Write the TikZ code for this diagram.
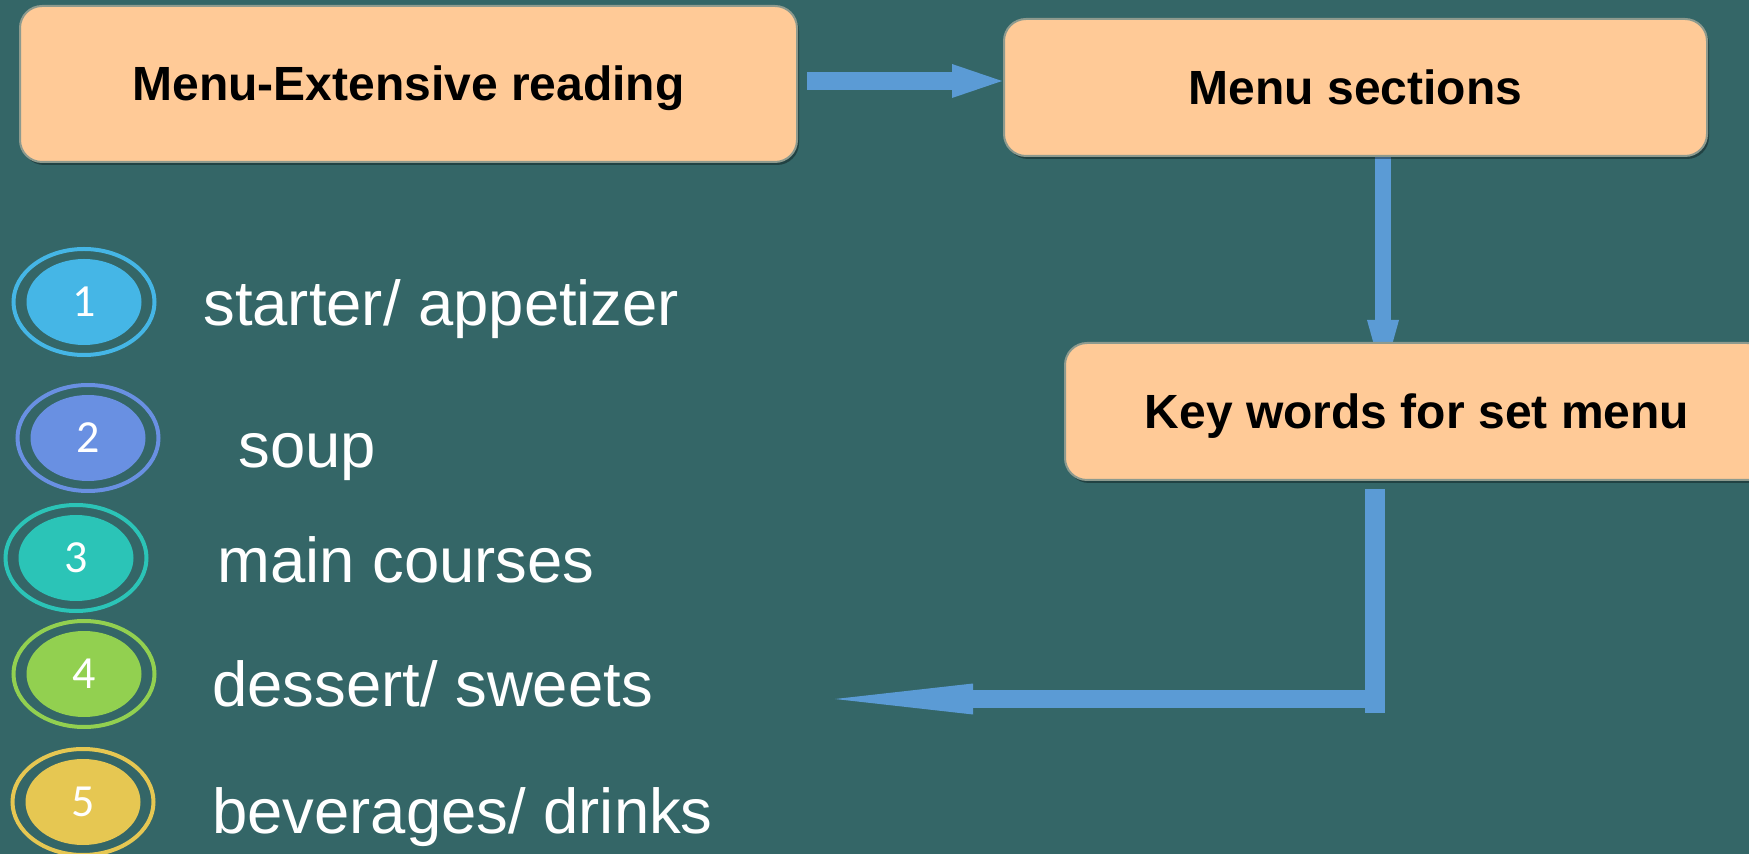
\documentclass[tikz,border=0pt]{standalone}
\usepackage{fontspec}
\setmainfont{Liberation Sans}
\newfontfamily\numfont{Carlito}
\usetikzlibrary{arrows.meta,shapes.geometric,calc,shadows}
\definecolor{bgc}{HTML}{346667}
\definecolor{peach}{HTML}{FFCA97}
\definecolor{boxedge}{HTML}{8D9A8E}
\definecolor{arrc}{HTML}{5B9BD5}
\definecolor{numA}{HTML}{45B6E6}
\definecolor{numB}{HTML}{6990E2}
\definecolor{numC}{HTML}{2BC4B7}
\definecolor{numD}{HTML}{92D050}
\definecolor{numE}{HTML}{E6C752}
\pgfdeclarelayer{bglayer}
\pgfdeclarelayer{arrlayer}
\pgfsetlayers{bglayer,arrlayer,main}
\begin{document}
\begin{tikzpicture}[x=0.5pt,y=-0.5pt,
  box/.style={rectangle, rounded corners=11pt, fill=peach, draw=boxedge,
    line width=1pt, outer sep=0pt, inner sep=0pt, text=black,
    text height=17pt, text depth=0pt,
    font=\fontsize{24}{28}\selectfont\bfseries,
    drop shadow={shadow xshift=1pt, shadow yshift=-1.5pt, opacity=0.35, fill=black}},
  ring/.style={ellipse, draw=#1, line width=2pt, minimum width=70.5pt,
    minimum height=53pt, inner sep=0pt},
  disc/.style={ellipse, fill=#1, minimum width=57.5pt, minimum height=43pt,
    inner sep=0pt, text=white, font=\numfont\fontsize{23}{27}\selectfont},
  lbl/.style={anchor=base west, text=white, inner sep=0pt,
    font=\fontsize{31.7}{38}\selectfont},
  shaft/.style={draw=arrc, line width=#1},
]
\useasboundingbox (0,0) rectangle (1749,854);
\begin{pgfonlayer}{bglayer}
\fill[bgc] (0,0) rectangle (1749,854);
\end{pgfonlayer}

% boxes
\node[box, minimum width=388.5pt, minimum height=78pt] (b1) at (408.5,84) {Menu-Extensive reading};
\node[box, minimum width=351.5pt, minimum height=68.5pt] (b2) at (1355.5,87.5) {Menu sections};
\node[box, minimum width=352pt, minimum height=68.5pt] (b3) at (1417,411.5) {Key words for set menu};

% arrows
\begin{pgfonlayer}{arrlayer}
\draw[shaft=9pt, -{Triangle[length=25pt,width=17pt,line width=0pt]}]
  ($(b1.east)+(10,-3)$) -- ($(b2.west)+(-2,-6.5)$);
\draw[shaft=8pt, -{Triangle[length=28.5pt,width=16pt,line width=0pt]}]
  ($(b2.south)+(27.5,0)$) -- ($(b3.north)+(-34,34)$);
\coordinate (k1) at ($(b3.south)+(-42,9)$);
\coordinate (k2) at ($(k1)+(0,224)$);
\coordinate (k3) at ($(k1)+(-10,210)$);
\coordinate (k4) at (835,699);
\draw[shaft=10pt] (k1) -- (k2);
\draw[shaft=9pt, -{Triangle[length=69pt,width=15.5pt,line width=0pt]}] (k3) -- (k4);
\end{pgfonlayer}

% numbered circles
\node[ring=numA] (r1) at (84,302) {};
\node[disc=numA] (n1) at (84,302) {1};
\node[ring=numB] (r2) at (88,438) {};
\node[disc=numB] (n2) at (88,438) {2};
\node[ring=numC] (r3) at (76,558) {};
\node[disc=numC] (n3) at (76,558) {3};
\node[ring=numD] (r4) at (84,674) {};
\node[disc=numD] (n4) at (84,674) {4};
\node[ring=numE] (r5) at (83,802) {};
\node[disc=numE] (n5) at (83,802) {5};

% labels
\node[lbl] (t1) at (203,326) {starter/ appetizer};
\node[lbl] (t2) at (238,468) {soup};
\node[lbl] (t3) at (217,582) {main courses};
\node[lbl] (t4) at (212,706) {dessert/ sweets};
\node[lbl] (t5) at (212,833) {beverages/ drinks};
\end{tikzpicture}
\end{document}
